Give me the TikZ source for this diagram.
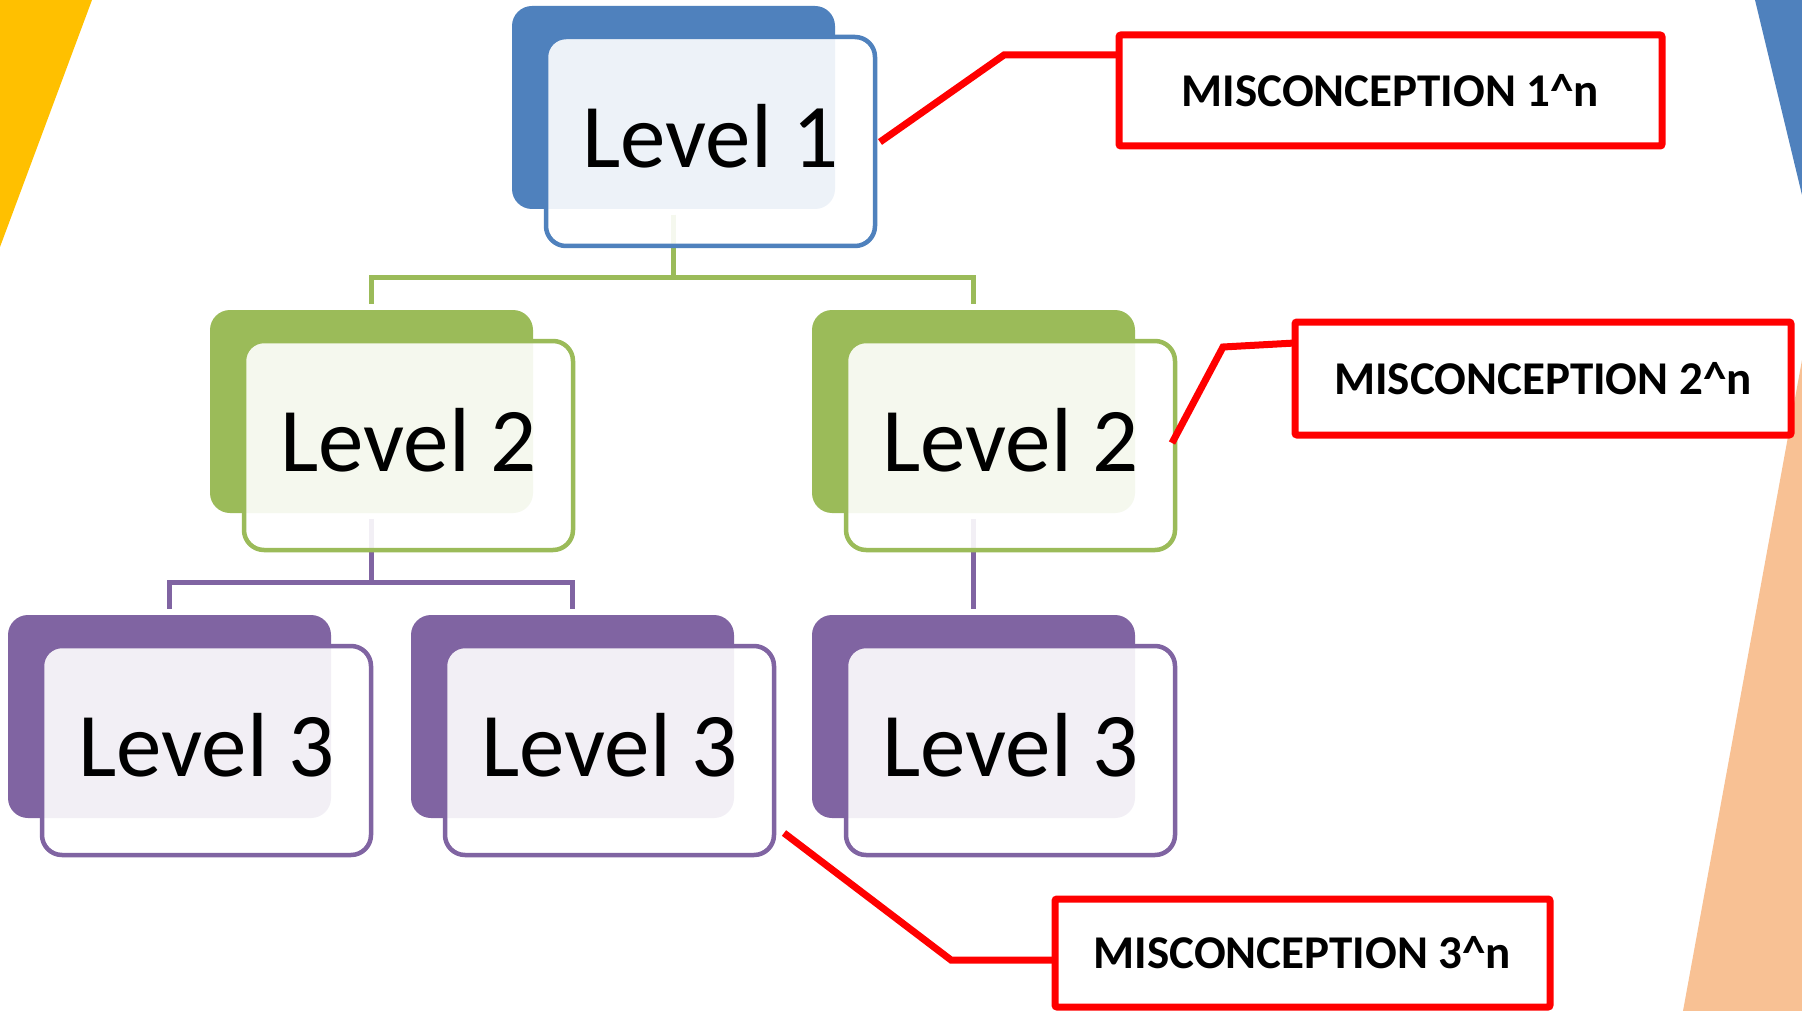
\documentclass[tikz,border=0pt]{standalone}
\usepackage{fontspec}
\setmainfont{Carlito}
\usetikzlibrary{calc}

\definecolor{cblue}{HTML}{4F81BD}
\definecolor{cgreen}{HTML}{9BBB59}
\definecolor{cpurple}{HTML}{8064A2}
\definecolor{cyellow}{HTML}{FFC000}
\definecolor{cpeach}{HTML}{F8C194}
\definecolor{cred}{HTML}{FF0000}

\pgfdeclarelayer{deco}
\pgfdeclarelayer{links}
\pgfsetlayers{deco,links,main}

\tikzset{
  backbox/.style={rectangle, rounded corners=20pt, minimum width=323pt,
    minimum height=203pt, inner sep=0pt, outer sep=0pt, anchor=north west,
    fill=#1, draw=none},
  frontbox/.style={rectangle, rounded corners=20pt, minimum width=329pt,
    minimum height=209pt, inner sep=0pt, outer sep=0pt, anchor=north west,
    draw=#1, line width=4.5pt, fill=white, fill opacity=0.9},
  lvltext/.style={anchor=base, inner sep=0pt,
    font=\fontsize{91}{110}\selectfont},
  conn/.style={draw=#1, line width=5pt},
  misbox/.style={rectangle, draw=cred, line width=7pt, fill=white,
    inner sep=0pt, outer sep=0pt, rounded corners=2pt,
    font=\bfseries\fontsize{47}{56}\selectfont},
  leader/.style={draw=cred, line width=7pt},
}

% one hierarchy box: name, left, top, colour, label
\newcommand\levelbox[5]{%
  \node[backbox=#4] (#1b) at (#2,#3) {};
  \node[frontbox=#4] (#1f) at ($(#1b.north west)+(34,31)$) {};
  \node[lvltext] (#1t) at ($(#1f.north)+(0,130.5)$) {#5};
}

\begin{document}
\begin{tikzpicture}[x=1pt,y=-1pt]
  \useasboundingbox (0,0) rectangle (1802,1011);

  % corner decorations
  \begin{pgfonlayer}{deco}
    \fill[white] (0,0) rectangle (1802,1011);
    \fill[cyellow] (0,0) -- (92,0) -- (0,247) -- cycle;
    \fill[cblue] (1755,0) -- (1802,0) -- (1802,195) -- cycle;
    \fill[cpeach] (1802,360) -- (1802,1011) -- (1683,1011) -- cycle;
  \end{pgfonlayer}

  % hierarchy
  \levelbox{la}{512}{6}{cblue}{Level 1}
  \levelbox{lb}{210}{310}{cgreen}{Level 2}
  \levelbox{lc}{812}{310}{cgreen}{Level 2}
  \levelbox{ld}{8}{615}{cpurple}{Level 3}
  \levelbox{le}{411}{615}{cpurple}{Level 3}
  \levelbox{lf}{812}{615}{cpurple}{Level 3}

  % tree connectors, drawn beneath the boxes
  \begin{pgfonlayer}{links}
    \coordinate (j1) at ($(lab.south)+(0,68)$);
    \draw[conn=cgreen] ($(lab.south)+(0,6)$) -- (j1) -| ($(lbb.north)+(0,-6)$);
    \draw[conn=cgreen] (j1) -| ($(lcb.north)+(0,-6)$);
    \coordinate (j2) at ($(lbb.south)+(0,69)$);
    \draw[conn=cpurple] ($(lbb.south)+(0,6)$) -- (j2) -| ($(ldb.north)+(0,-6)$);
    \draw[conn=cpurple] (j2) -| ($(leb.north)+(0,-6)$);
    \draw[conn=cpurple] ($(lcb.south)+(0,6)$) -- ($(lfb.north)+(0,-6)$);
  \end{pgfonlayer}

  % misconception call-outs
  \node[misbox, minimum width=543pt, minimum height=111pt] (m1)
    at (1390.5,90.5) {MISCONCEPTION 1\textasciicircum n};
  \node[misbox, minimum width=496pt, minimum height=113pt] (m2)
    at (1543,378.5) {MISCONCEPTION 2\textasciicircum n};
  \node[misbox, minimum width=495pt, minimum height=108pt] (m3)
    at (1302.5,953) {MISCONCEPTION 3\textasciicircum n};

  \coordinate (a1) at (880,142);
  \coordinate (k1) at (1004,55);
  \draw[leader] (a1) -- (k1) -- (k1 -| m1.west);

  \coordinate (a2) at (1172,443);
  \coordinate (k2) at (1223,347);
  \draw[leader] (a2) -- (k2) -- ($(k2 -| m2.west)+(0,-4)$);

  \coordinate (a3) at (784,833);
  \coordinate (k3) at (951,960);
  \draw[leader] (a3) -- (k3) -- (k3 -| m3.west);
\end{tikzpicture}
\end{document}
